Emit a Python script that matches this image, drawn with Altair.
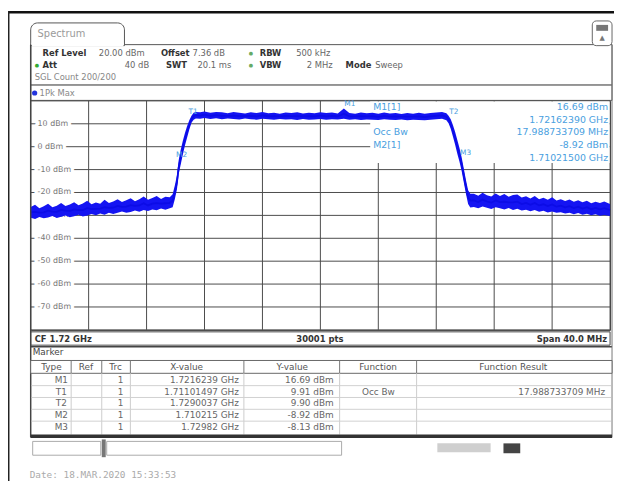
import altair as alt
import pandas as pd

# ---------------- data ----------------
trace_freq = [1700.0, 1700.3, 1700.6, 1700.9, 1701.2, 1701.5, 1701.8, 1702.1, 1702.4, 1702.7,
              1703.0, 1703.3, 1703.6, 1703.9, 1704.2, 1704.5, 1704.8, 1705.1, 1705.4, 1705.7,
              1706.0, 1706.3, 1706.6, 1706.9, 1707.2, 1707.5, 1707.8, 1708.1, 1708.4, 1708.7,
              1709.0, 1709.3, 1709.6,
              1709.8, 1709.95, 1710.1, 1710.215, 1710.35, 1710.5, 1710.65, 1710.8, 1710.95, 1711.1,
              1711.25, 1711.4,
              1711.7, 1712.0, 1712.4, 1712.8, 1713.2, 1713.6, 1714.0, 1714.4, 1714.8, 1715.2,
              1715.6, 1716.0, 1716.4, 1716.8, 1717.2, 1717.6, 1718.0, 1718.4, 1718.8, 1719.2,
              1719.6, 1720.0, 1720.4, 1720.8, 1721.2, 1721.62, 1722.0, 1722.4, 1722.8, 1723.2,
              1723.6, 1724.0, 1724.4, 1724.8, 1725.2, 1725.6, 1726.0, 1726.4, 1726.8, 1727.2,
              1727.6, 1728.0, 1728.4, 1728.7,
              1728.85, 1729.0, 1729.15, 1729.3, 1729.45, 1729.6, 1729.75, 1729.9, 1730.05, 1730.2,
              1730.35,
              1730.6, 1730.9, 1731.2, 1731.5, 1731.8, 1732.1, 1732.4, 1732.7, 1733.0, 1733.3,
              1733.6, 1733.9, 1734.2, 1734.5, 1734.8, 1735.1, 1735.4, 1735.7, 1736.0, 1736.3,
              1736.6, 1736.9, 1737.2, 1737.5, 1737.8, 1738.1, 1738.4, 1738.7, 1739.0, 1739.3,
              1739.6, 1740.0]
trace_hi = [-26.3, -25.4, -26.9, -26.0, -24.9, -26.4, -25.8, -24.6, -25.9, -25.2,
            -24.3, -25.6, -24.8, -23.6, -25.1, -24.4, -24.9, -23.2, -24.6, -23.9,
            -22.9, -24.2, -23.4, -22.5, -23.8, -22.9, -21.8, -23.2, -22.4, -21.5,
            -22.8, -21.9, -22.1,
            -20.8, -17.0, -12.5, -6.0, -1.5, 2.5, 6.0, 9.0, 11.5, 13.5,
            14.8, 15.2,
            15.0, 15.4, 14.8, 15.2, 15.0, 14.6, 15.1, 14.8, 14.5, 15.0,
            14.7, 15.1, 14.6, 14.8, 14.4, 14.9, 14.7, 15.0, 14.5, 14.8,
            14.6, 15.0, 14.7, 14.9, 14.5, 16.69, 14.7, 14.4, 14.9, 14.6,
            14.8, 14.4, 14.9, 14.5, 14.7, 14.3, 14.7, 14.4, 14.8, 14.4,
            14.7, 14.9, 15.2, 14.6,
            13.5, 12.0, 9.5, 6.5, 3.0, -0.5, -4.5, -9.5, -14.5, -19.0,
            -20.5,
            -20.6, -21.4, -20.1, -21.2, -21.7, -20.4, -21.5, -20.7, -21.9, -21.1,
            -20.9, -22.2, -21.6, -22.6, -21.5, -22.9, -22.3, -23.2, -22.1, -23.5,
            -22.9, -23.7, -23.1, -24.1, -23.4, -24.3, -23.6, -24.7, -24.0, -24.6,
            -23.9, -25.0]
trace_lo = [-31.0, -31.6, -30.7, -31.3, -30.9, -30.3, -31.1, -30.6, -30.0, -30.8,
            -30.4, -29.7, -30.5, -30.1, -29.4, -29.9, -29.2, -29.7, -28.8, -29.4,
            -28.9, -28.3, -28.9, -28.5, -27.9, -28.4, -27.6, -28.1, -27.4, -27.8,
            -27.0, -27.5, -26.9,
            -26.4, -23.0, -18.5, -12.0, -8.0, -3.5, 0.5, 4.0, 7.5, 10.5,
            11.8, 12.3,
            12.2, 12.5, 12.1, 12.4, 12.0, 12.3, 12.1, 11.9, 12.3, 12.0,
            11.8, 12.2, 12.0, 11.8, 12.1, 11.9, 12.0, 11.7, 12.1, 11.8,
            11.9, 12.1, 11.8, 12.0, 11.9, 12.2, 11.8, 12.0, 11.7, 11.9,
            11.8, 11.7, 12.0, 11.8, 11.7, 11.9, 11.6, 11.8, 11.7, 11.5,
            11.8, 12.0, 12.2, 11.6,
            10.2, 7.8, 4.5, 1.0, -3.0, -6.5, -10.5, -15.5, -20.5, -25.0,
            -26.6,
            -26.3, -26.9, -26.1, -26.7, -27.2, -26.5, -26.9, -27.4, -26.8, -27.6,
            -27.1, -27.9, -27.5, -28.2, -27.7, -28.4, -28.0, -28.7, -28.3, -28.9,
            -28.6, -29.2, -28.8, -29.5, -29.0, -29.7, -29.3, -29.9, -29.5, -30.2,
            -29.8, -30.3]

grid_freq = [1700, 1704, 1708, 1712, 1716, 1720, 1724, 1728, 1732, 1736, 1740]
grid_level = [20, 10, 0, -10, -20, -30, -40, -50, -60, -70, -80]
label_level = [10, 0, -10, -20, -30, -40, -50, -60, -70]
label_text = ["10 dBm", "0 dBm", "-10 dBm", "-20 dBm", "-30 dBm", "-40 dBm",
              "-50 dBm", "-60 dBm", "-70 dBm"]

marker_name = ["M1", "T1", "T2", "M2", "M3"]
marker_freq = [1721.6239, 1711.01497, 1729.0037, 1710.215, 1729.82]
marker_level = [16.69, 9.91, 9.90, -8.92, -8.13]
marker_xval = ["1.7216239 GHz", "1.71101497 GHz", "1.7290037 GHz", "1.710215 GHz", "1.72982 GHz"]
marker_yval = ["16.69 dBm", "9.91 dBm", "9.90 dBm", "-8.92 dBm", "-8.13 dBm"]
marker_func = ["", "Occ Bw", "", "", ""]
marker_result = ["", "17.988733709 MHz", "", "", ""]

info_left = ["M1[1]", "", "Occ Bw", "M2[1]", ""]
info_right = ["16.69 dBm", "1.72162390 GHz", "17.988733709 MHz", "-8.92 dBm", "1.71021500 GHz"]

table_head = ["Type", "Ref", "Trc", "X-value", "Y-value", "Function", "Function Result"]

# ---------------- layout helpers (image pixel coords -> chart coords) ----------------
X0, Y0, W, H = 31, 99, 587, 232
ONE = alt.Data(values=[{"k": 0}])


def px(x):
    return x - X0


def py(y):
    return y - Y0


def text(x, y, s, size=8.5, color="#666", weight="normal", align="left", font="DejaVu Sans"):
    return alt.Chart(ONE).mark_text(align=align, baseline="middle", fontSize=size, font=font,
                                    fontWeight=weight, color=color).encode(
        x=alt.value(px(x)), y=alt.value(py(y)), text=alt.value(s))


def box(x1, y1, x2, y2, fill="white", stroke=None, sw=1, **kw):
    mk = dict(fill=fill)
    if stroke:
        mk.update(stroke=stroke, strokeWidth=sw)
    mk.update(kw)
    return alt.Chart(ONE).mark_rect(**mk).encode(
        x=alt.value(px(x1)), x2=alt.value(px(x2)), y=alt.value(py(y1)), y2=alt.value(py(y2)))


def hline(x1, x2, y, color="#555", sw=1):
    return alt.Chart(ONE).mark_rule(color=color, strokeWidth=sw).encode(
        x=alt.value(px(x1)), x2=alt.value(px(x2)), y=alt.value(py(y)))


def vline(x, y1, y2, color="#555", sw=1):
    return alt.Chart(ONE).mark_rule(color=color, strokeWidth=sw).encode(
        x=alt.value(px(x)), y=alt.value(py(y1)), y2=alt.value(py(y2)))


xs = alt.Scale(domain=[1700, 1740], nice=False, zero=False)
ys = alt.Scale(domain=[-80, 20], nice=False, zero=False)

layers = []

# outer frame pieces
layers.append(box(8, 8, 622, 10.5, fill="#111"))
layers.append(box(8, 8, 9.5, 502, fill="#222"))

# header panel + tab
layers.append(box(31, 42, 620, 83, fill="white", stroke="#555"))
layers.append(box(31, 20, 126, 43, fill="white", stroke="#555",
                  cornerRadiusTopLeft=7, cornerRadiusTopRight=7))
layers.append(box(32, 40, 125, 44, fill="white"))
layers.append(text(38, 31, "Spectrum", size=10, color="#9a9a9a"))
layers.append(box(600, 18, 620, 43, fill="white", stroke="#666", cornerRadius=4))
layers.append(box(604, 22, 616, 28, fill="#777"))
layers.append(text(610, 35, "▲", size=7, color="#777", align="center"))

# header texts
layers += [
    text(43, 51, "Ref Level", size=8.5, color="#333", weight="bold"),
    text(100, 51, "20.00 dBm", size=8.5),
    text(163, 51, "Offset", size=8.5, color="#333", weight="bold"),
    text(195, 51, "7.36 dB", size=8.5),
    text(252, 51, "●", size=5, color="#6a6"),
    text(263, 51, "RBW", size=8.5, color="#333", weight="bold"),
    text(300, 51, "500 kHz", size=8.5),
    text(35, 63, "●", size=5, color="#3a3"),
    text(43, 63, "Att", size=8.5, color="#333", weight="bold"),
    text(151, 63, "40 dB", size=8.5, align="right"),
    text(168, 63, "SWT", size=8.5, color="#333", weight="bold"),
    text(200, 63, "20.1 ms", size=8.5),
    text(252, 63, "●", size=5, color="#6a6"),
    text(263, 63, "VBW", size=8.5, color="#333", weight="bold"),
    text(337, 63, "2 MHz", size=8.5, align="right"),
    text(350, 63, "Mode", size=8.5, color="#333", weight="bold"),
    text(380, 63, "Sweep", size=8.5),
    text(35, 75, "SGL Count 200/200", size=8.5, color="#888"),
]

# trace title row
layers.append(box(31, 83, 620, 98.5, fill="white", stroke="#555"))
layers.append(alt.Chart(ONE).mark_circle(color="#2233dd", size=28, opacity=1).encode(
    x=alt.value(px(35)), y=alt.value(py(91))))
layers.append(text(40, 91, "1Pk Max", size=8.5, color="#888"))

# plot background
layers.append(box(31, 99, 618, 331, fill="white"))

# grid
gf = pd.DataFrame({"f": grid_freq})
gl = pd.DataFrame({"v": grid_level})
layers.append(alt.Chart(gf).mark_rule(color="#4a4a4a", strokeWidth=1).encode(
    x=alt.X("f:Q", scale=xs, axis=None), y=alt.value(0), y2=alt.value(H)))
layers.append(alt.Chart(gl).mark_rule(color="#4a4a4a", strokeWidth=1).encode(
    y=alt.Y("v:Q", scale=ys, axis=None), x=alt.value(0), x2=alt.value(W)))

# level labels inside the plot (white halo hides grid behind them)
lab = pd.DataFrame({"v": label_level, "t": label_text})
layers.append(alt.Chart(lab).mark_text(align="left", baseline="middle", fontSize=8, font="DejaVu Sans",
                                       fill="white", stroke="white", strokeWidth=7, strokeJoin="round").encode(
    y=alt.Y("v:Q", scale=ys, axis=None), x=alt.value(px(38)), text="t:N"))
layers.append(alt.Chart(lab).mark_text(align="left", baseline="middle", fontSize=8, font="DejaVu Sans",
                                       color="#777").encode(
    y=alt.Y("v:Q", scale=ys, axis=None), x=alt.value(px(38)), text="t:N"))

# marker info box (white, hides grid)
layers.append(box(375, 99.5, 617.5, 162, fill="white"))

# trace
tr = pd.DataFrame({"f": trace_freq, "hi": trace_hi, "lo": trace_lo})
layers.append(alt.Chart(tr).mark_area(color="#1414f2", opacity=1).encode(
    x=alt.X("f:Q", scale=xs, axis=None), y=alt.Y("hi:Q", scale=ys, axis=None), y2="lo:Q"))
layers.append(alt.Chart(tr).transform_calculate(mid="(datum.hi + datum.lo) / 2").mark_line(
    color="#0c0ce6", strokeWidth=1.8).encode(
    x=alt.X("f:Q", scale=xs, axis=None), y=alt.Y("mid:Q", scale=ys, axis=None)))

# marker labels
mk = pd.DataFrame({"n": marker_name, "f": marker_freq, "v": marker_level})
layers.append(alt.Chart(mk).transform_filter("datum.n != 'M1'").mark_text(
    fontSize=7.5, font="DejaVu Sans", color="#4aa0e0", dx=3, dy=-12).encode(
    x=alt.X("f:Q", scale=xs, axis=None), y=alt.Y("v:Q", scale=ys, axis=None), text="n:N"))
layers.append(alt.Chart(mk).transform_filter("datum.n == 'M1'").mark_text(
    fontSize=7.5, font="DejaVu Sans", color="#4aa0e0", dx=6, dy=-5).encode(
    x=alt.X("f:Q", scale=xs, axis=None), y=alt.Y("v:Q", scale=ys, axis=None), text="n:N"))

# info text
for i in range(5):
    yy = 105 + 13 * i
    if info_left[i]:
        layers.append(text(378, yy, info_left[i], size=9.5, color="#4aa0e0"))
    layers.append(text(616, yy, info_right[i], size=9.5, color="#4aa0e0", align="right"))

# CF bar
layers.append(box(31, 333, 618, 346.5, fill="white", stroke="#444"))
layers.append(hline(31, 620, 348, "#444", 1.5))
layers.append(text(35, 340, "CF 1.72 GHz", size=8.5, color="#333", weight="bold"))
layers.append(text(324, 340, "30001 pts", size=8.5, color="#333", weight="bold", align="center"))
layers.append(text(615, 340, "Span 40.0 MHz", size=8.5, color="#333", weight="bold", align="right"))

# marker table
layers.append(vline(31, 42, 440, "#444", 1.5))
layers.append(vline(620, 42, 440, "#777", 1))
layers.append(text(33, 353, "Marker", size=9, color="#444"))
col_edges = [31, 72, 103, 132, 247, 344, 422, 620]
layers.append(box(31, 362, 620, 375, fill="white", stroke="#666"))
head_x = [52, 87, 117, 189, 296, 383, 520]
for hx, ht in zip(head_x, table_head):
    layers.append(text(hx, 368.5, ht, size=9, color="#555", align="center"))
for ce in col_edges[1:-1]:
    layers.append(vline(ce, 362, 375, "#777"))
    layers.append(vline(ce, 375, 437, "#ccc"))
for ry in [387.5, 399.5, 411.5, 423.5]:
    layers.append(hline(32, 619, ry, "#d0d0d0"))
layers.append(box(31, 437, 620, 440.5, fill="#333"))
for i in range(5):
    yy = 381.5 + 12 * i
    layers.append(text(62, yy, marker_name[i], size=9, color="#666", align="center"))
    layers.append(text(125, yy, "1", size=9, color="#666", align="right"))
    layers.append(text(242, yy, marker_xval[i], size=9, color="#666", align="right"))
    layers.append(text(338, yy, marker_yval[i], size=9, color="#666", align="right"))
    if marker_func[i]:
        layers.append(text(400, yy, marker_func[i], size=9, color="#666", align="right"))
    if marker_result[i]:
        layers.append(text(613, yy, marker_result[i], size=9, color="#666", align="right"))

# status bar
layers.append(box(33, 444, 102, 458, fill="white", stroke="#aaa"))
layers.append(box(103, 442, 107, 460, fill="#777"))
layers.append(box(108, 444, 346, 458, fill="white", stroke="#aaa"))
layers.append(box(443, 446, 497, 455, fill="#cfcfcf"))
layers.append(box(510, 446, 527, 456, fill="#444"))

# date line
layers.append(text(30, 478, "Date: 18.MAR.2020   15:33:53", size=9.5, color="#aaa",
                   font="DejaVu Sans Mono"))

chart = alt.layer(*layers).properties(
    width=W, height=H,
    padding={"left": 23, "top": 91, "right": 4, "bottom": 150},
    autosize=alt.AutoSizeParams(type="none"),
    background="white",
).configure_view(stroke="#333", strokeWidth=1)

chart.save("out.html", embed_options={"renderer": "svg", "actions": False})
